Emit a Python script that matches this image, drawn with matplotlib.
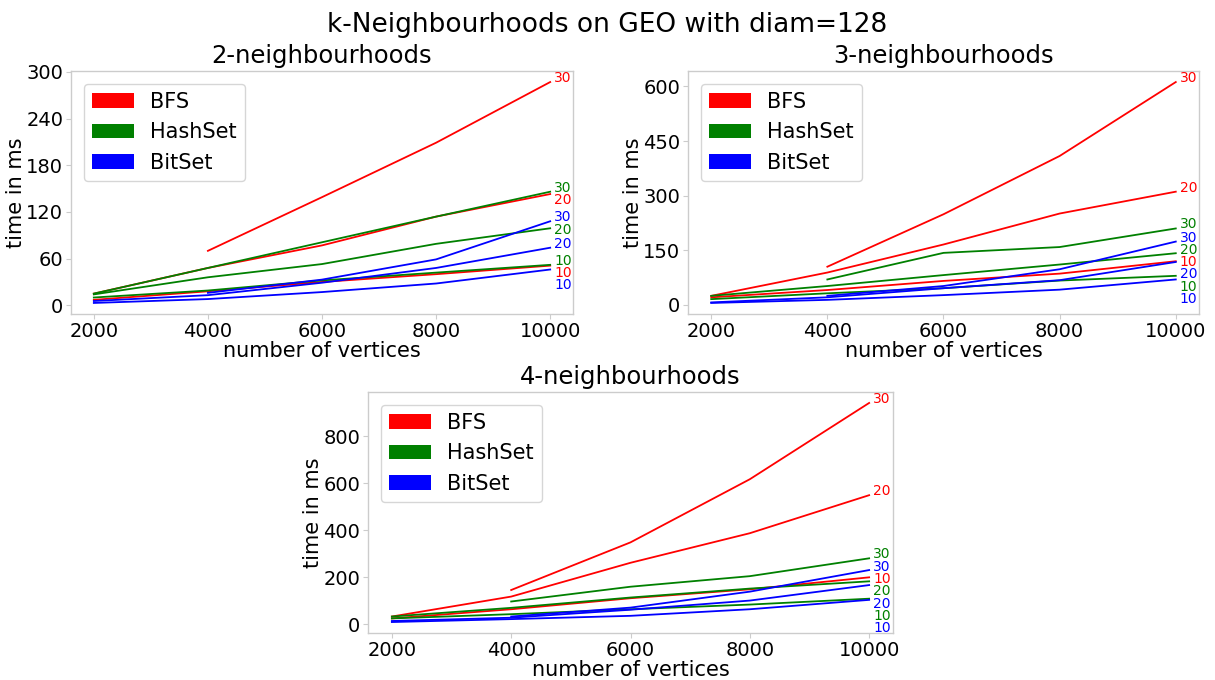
import numpy as np
import matplotlib
matplotlib.use("Agg")
import matplotlib.pyplot as plt
from matplotlib.patches import Patch
from matplotlib.ticker import MultipleLocator

# number of vertices in the GEO graphs
vertices = [2000, 4000, 6000, 8000, 10000]
neighbourhood_sizes = [10, 20, 30]
methods = ["BFS", "HashSet", "BitSet"]
method_colors = {"BFS": "red", "HashSet": "green", "BitSet": "blue"}

nan = np.nan

# running times in ms, per method and neighbourhood size (10, 20, 30)
k2_bfs = [[7, 18, 30, 40, 51],
          [15, 48, 77, 114, 143],
          [nan, 70, 139, 209, 287]]
k2_hashset = [[10, 19, 32, 42, 52],
              [14, 36, 53, 79, 99],
              [15, 48, 81, 114, 146]]
k2_bitset = [[3, 8, 17, 28, 46],
             [5.5, 13, 29, 48, 74],
             [nan, 16, 33, 59, 108]]

k3_bfs = [[21, 41, 66, 86, 120],
          [25, 89, 166, 251, 311],
          [nan, 105, 249, 409, 612]]
k3_hashset = [[16, 32, 46, 67, 80],
              [25, 52, 82, 111, 142],
              [nan, 70, 143, 159, 210]]
k3_bitset = [[5.5, 14, 27, 42, 70],
             [7, 21, 46, 68, 118],
             [nan, 25, 52, 98, 174]]

k4_bfs = [[24, 63, 110, 148, 199],
          [32, 117, 261, 387, 549],
          [nan, 145, 348, 617, 942]]
k4_hashset = [[24, 42, 63, 83, 108],
              [32, 69, 113, 151, 182],
              [nan, 96, 159, 204, 280]]
k4_bitset = [[8.5, 21, 35, 63, 103],
             [13, 27, 61, 100, 166],
             [nan, 32, 70, 138, 230]]

panel_titles = ["2-neighbourhoods", "3-neighbourhoods", "4-neighbourhoods"]
panel_data = [
    {"BFS": k2_bfs, "HashSet": k2_hashset, "BitSet": k2_bitset},
    {"BFS": k3_bfs, "HashSet": k3_hashset, "BitSet": k3_bitset},
    {"BFS": k4_bfs, "HashSet": k4_hashset, "BitSet": k4_bitset},
]
y_steps = [60, 150, 200]

W, H, DPI = 1215, 680, 100
fig = plt.figure(figsize=(W / DPI, H / DPI), dpi=DPI)
fig.patch.set_facecolor("white")

# axes boxes in pixels: left, right, top, bottom
boxes = [(71, 573, 71, 314), (688, 1199, 71, 314), (368, 893, 392, 633)]

SPINE = "#cccccc"

for box, title, data, ystep in zip(boxes, panel_titles, panel_data, y_steps):
    l, r, t, b = box
    ax = fig.add_axes([l / W, 1 - b / H, (r - l) / W, (b - t) / H])
    ends = []
    for m in methods:
        for size, series in zip(neighbourhood_sizes, data[m]):
            ax.plot(vertices, series, color=method_colors[m], lw=1.3)
            ends.append((series[-1], m, size))

    ax.set_title(title, fontsize=17.5)
    ax.set_xlabel("number of vertices", fontsize=15, labelpad=0)
    ax.set_ylabel("time in ms", fontsize=15, labelpad=0)
    ax.set_xticks(vertices)
    ax.yaxis.set_major_locator(MultipleLocator(ystep))
    ax.tick_params(labelsize=14, color=SPINE, length=3.5, width=0.8, pad=2)
    for s in ax.spines.values():
        s.set_color(SPINE)
        s.set_linewidth(1.0)

    handles = [Patch(facecolor=method_colors[m], label=m) for m in methods]
    ax.legend(handles=handles, loc="upper left", fontsize=15,
              borderaxespad=0.6)

    ax.set_xlim(ax.get_xlim())
    ax.set_ylim(ax.get_ylim())

    # end-of-line size labels, stacked top-down so they do not overlap
    ends.sort(key=lambda e: -e[0])
    to_disp = ax.transData
    to_data = ax.transData.inverted()
    gap = 12.3
    prev = None
    for val, m, size in ends:
        x_d, y_d = to_disp.transform((vertices[-1], val))
        if prev is not None and y_d > prev - gap:
            y_d = prev - gap
        prev = y_d
        xt, yt = to_data.transform((x_d + 4, y_d))
        ax.text(xt, yt, str(size), color=method_colors[m], fontsize=10,
                ha="left", va="baseline", clip_on=False)

fig.suptitle("k-Neighbourhoods on GEO with diam=128", fontsize=19, y=0.983)

fig.savefig("out.png", dpi=DPI, facecolor="white")
